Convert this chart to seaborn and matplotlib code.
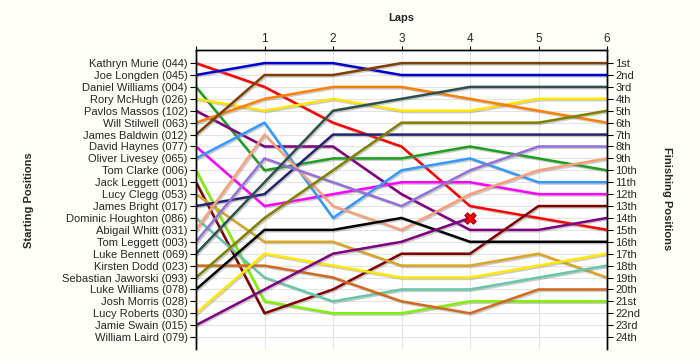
import pandas as pd
import seaborn as sns
import matplotlib.pyplot as plt
import matplotlib.patheffects as pe

# Drivers in starting order (left axis)
drivers = ["Kathryn Murie (044)", "Joe Longden (045)", "Daniel Williams (004)", "Rory McHugh (026)",
           "Pavlos Massos (102)", "Will Stilwell (063)", "James Baldwin (012)", "David Haynes (077)",
           "Oliver Livesey (065)", "Tom Clarke (006)", "Jack Leggett (001)", "Lucy Clegg (053)",
           "James Bright (017)", "Dominic Houghton (086)", "Abigail Whitt (031)", "Tom Leggett (003)",
           "Luke Bennett (069)", "Kirsten Dodd (023)", "Sebastian Jaworski (093)", "Luke Williams (078)",
           "Josh Morris (028)", "Lucy Roberts (030)", "Jamie Swain (015)", "William Laird (079)"]

colors = ["#FF0000", "#0000CC", "#1E9E1E", "#FFE500", "#800080", "#FF8000", "#7F3F00", "#FF00FF",
          "#3399FF", "#7FF000", "#800000", "#DAA520", "#23236E", "#66C8A8", "#F8A07E", "#9370DB",
          "#2F4F4F", "#D2691E", "#808000", "#000000", "#999999", "#FFE800", "#800080", "#999999"]

# position of each driver at the end of each lap (None = not running)
lap0 = [1, 2, 3, 4, 5, 6, 7, 8, 9, 10, 11, 12, 13, 14, 15, 16, 17, 18, 19, 20, None, 22, 23, None]
lap1 = [3, 1, 10, 5, 8, 4, 2, 13, 6, 21, 22, 16, 12, 19, 7, 9, 11, 18, 14, 15, None, 17, 20, None]
lap2 = [6, 1, 9, 4, 8, 3, 2, 12, 14, 22, 20, 16, 7, 21, 13, 11, 5, 19, 10, 15, None, 18, 17, None]
lap3 = [8, 2, 9, 5, 12, 3, 1, 11, 10, 22, 17, 18, 7, 20, 15, 13, 4, 21, 6, 14, None, 19, 16, None]
lap4 = [13, 2, 8, 5, 15, 4, 1, 11, 9, 21, 17, 18, 7, 20, 12, 10, 3, 22, 6, 16, None, 19, 14, None]
lap5 = [14, 2, 9, 4, 15, 5, 1, 12, 11, 21, 13, 17, 7, 19, 10, 8, 3, 20, 6, 16, None, 18, None, None]
lap6 = [15, 2, 10, 4, 14, 6, 1, 12, 11, 21, 13, 19, 7, 18, 9, 8, 3, 20, 5, 16, None, 17, None, None]
laps = [lap0, lap1, lap2, lap3, lap4, lap5, lap6]

lap_labels = ["", "1", "2", "3", "4", "5", "6"]
finish_labels = ["1st", "2nd", "3rd"] + [f"{n}th" for n in range(4, 21)] + ["21st", "22nd", "23rd", "24th"]

# retirement marker
retired_lap = [4]
retired_pos = [14]

rows = []
for i, d in enumerate(drivers):
    for lap, vals in enumerate(laps):
        if vals[i] is not None:
            rows.append({"driver": d, "lap": lap, "pos": vals[i]})
df = pd.DataFrame(rows)
palette = dict(zip(drivers, colors))

sns.set_theme(style="white")
plt.rcParams['font.family'] = ['Liberation Sans', 'DejaVu Sans']

fig = plt.figure(figsize=(7, 3.6), dpi=100, facecolor="#FFFFF7")
ax = fig.add_axes([196 / 700, 1 - 349 / 360, (607 - 196) / 700, (349 - 50) / 360])
ax.set_facecolor("white")

sns.lineplot(data=df, x="lap", y="pos", hue="driver", palette=palette, estimator=None,
             sort=False, lw=1.8, legend=False, ax=ax)
for line in ax.lines:
    line.set_path_effects([pe.SimpleLineShadow(offset=(1.0, -1.0), shadow_color="gray", alpha=0.4),
                           pe.Normal()])

sns.scatterplot(x=retired_lap, y=retired_pos, marker="X", s=70, color="#FF0000",
                edgecolor="#800000", linewidth=0.6, zorder=5, ax=ax)

ax.set_xlim(0, 6)
ax.set_ylim(25, -0.1)
ax.set_yticks(range(1, 25))
ax.set_yticklabels(drivers, fontsize=8)
ax.set_xticks(range(7))
ax.set_xticklabels(lap_labels, fontsize=8.5)
ax.xaxis.tick_top()
ax.tick_params(axis="x", top=True, bottom=False, length=3, width=0.8, color="black", pad=0.5)
ax.tick_params(axis="y", left=True, length=4, width=0.8, color="black", pad=2)
ax.grid(True, color="#E4E4E4", lw=0.8)
ax.set_axisbelow(True)
ax.set_xlabel("")
ax.set_ylabel("")

ax2 = ax.twinx()
ax2.set_ylim(ax.get_ylim())
ax2.set_yticks(range(1, 25))
ax2.set_yticklabels(finish_labels, fontsize=8)
ax2.tick_params(axis="y", right=True, length=4, width=0.8, color="black", pad=2)
ax2.grid(False)

for a in (ax, ax2):
    a.spines["bottom"].set_visible(False)
    for s in ("top", "left", "right"):
        a.spines[s].set_color("black")
        a.spines[s].set_linewidth(1)

fig.text(401 / 700, 1 - 18 / 360, "Laps", ha="center", va="center", fontweight="bold", fontsize=8)
fig.text(29 / 700, 1 - 200 / 360, "Starting Positions", ha="center", va="center",
         rotation=90, fontweight="bold", fontsize=8)
fig.text(667 / 700, 1 - 199 / 360, "Finishing Positions", ha="center", va="center",
         rotation=270, fontweight="bold", fontsize=8)

fig.savefig("out.png", dpi=100, facecolor=fig.get_facecolor())
